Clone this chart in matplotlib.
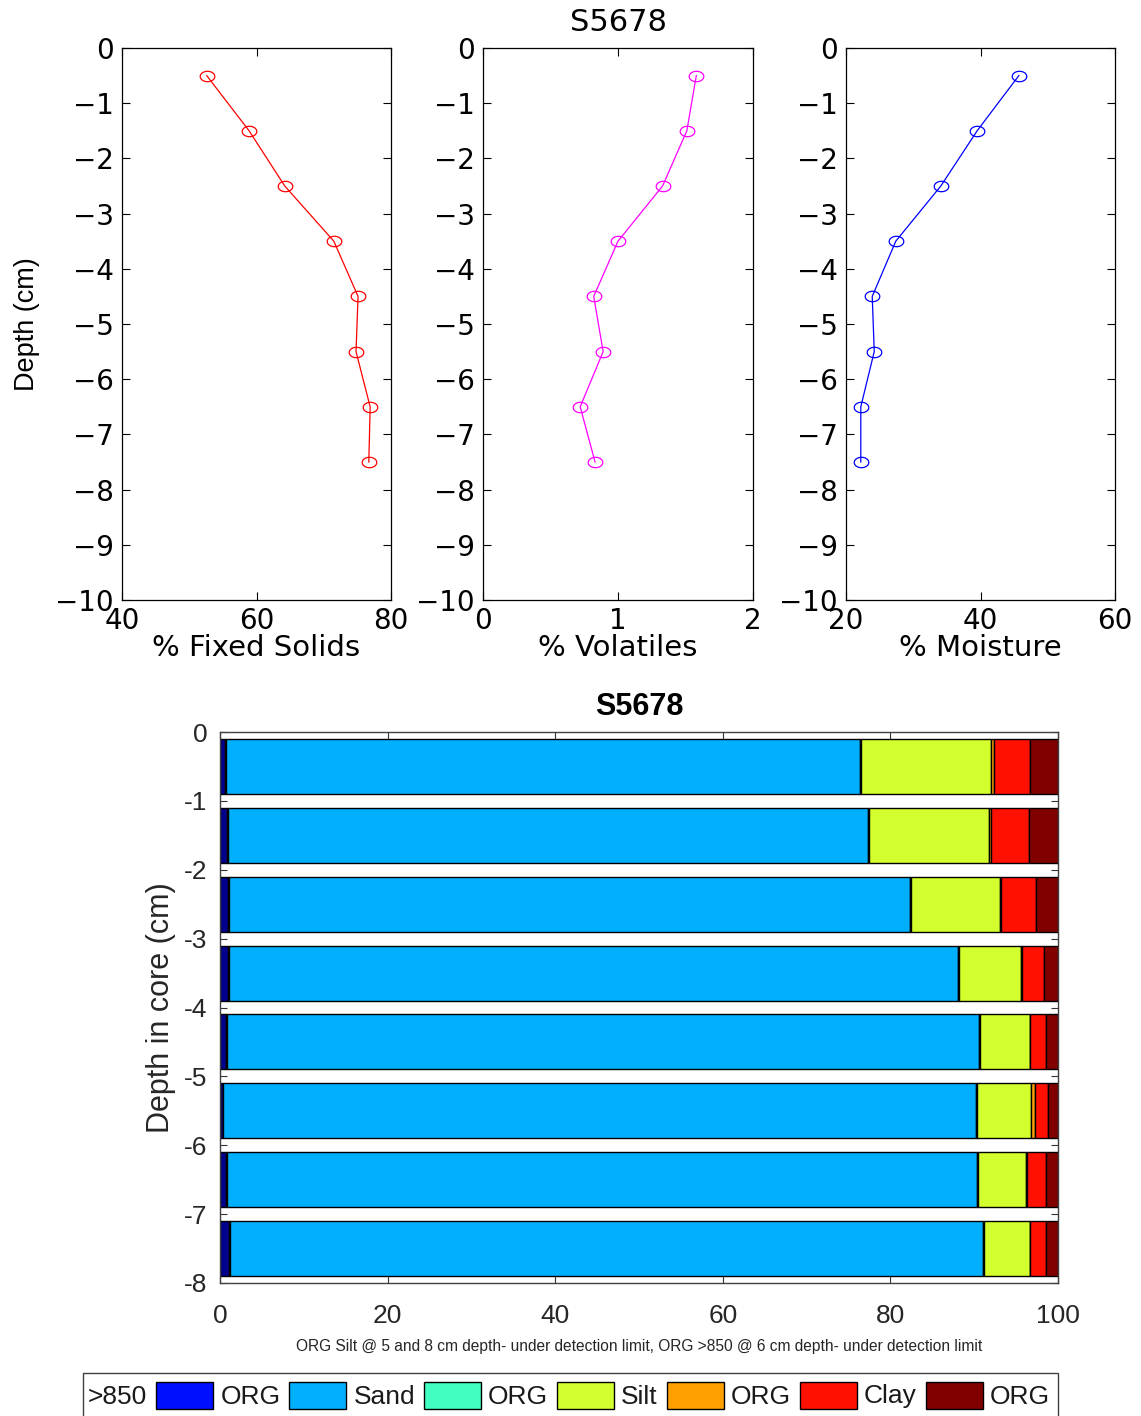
import numpy as np
import matplotlib
matplotlib.use('Agg')
import matplotlib.pyplot as plt
from matplotlib.path import Path
from matplotlib.patches import Rectangle

# ---------------- data ----------------
depth = [-0.5, -1.5, -2.5, -3.5, -4.5, -5.5, -6.5, -7.5]
fixed_solids = [52.6, 58.9, 64.2, 71.5, 75.1, 74.8, 76.9, 76.7]
volatiles = [1.58, 1.51, 1.33, 1.00, 0.82, 0.89, 0.72, 0.83]
moisture = [45.7, 39.5, 34.1, 27.4, 23.9, 24.2, 22.2, 22.2]

gt850 = [0.6, 0.85, 1.0, 1.0, 0.7, 0.4, 0.7, 1.1]
org_gt850 = [0.1, 0.1, 0.1, 0.1, 0.1, 0.0, 0.1, 0.1]
sand = [75.7, 76.4, 81.2, 87.0, 89.8, 89.8, 89.5, 89.9]
org_sand = [0.1, 0.1, 0.1, 0.1, 0.1, 0.1, 0.1, 0.1]
silt = [15.5, 14.3, 10.7, 7.4, 6.0, 6.5, 5.8, 5.5]
org_silt = [0.4, 0.2, 0.1, 0.1, 0.0, 0.5, 0.1, 0.0]
clay = [4.3, 4.6, 4.2, 2.6, 1.9, 1.5, 2.3, 1.9]
org_clay = [3.3, 3.4, 2.6, 1.7, 1.4, 1.2, 1.4, 1.4]

series = [gt850, org_gt850, sand, org_sand, silt, org_silt, clay, org_clay]
series_labels = ['>850', 'ORG', 'Sand', 'ORG', 'Silt', 'ORG', 'Clay', 'ORG']
series_colors = ['#00008c', '#0010ff', '#00b0ff', '#40ffc0', '#d4ff2e',
                 '#ffa000', '#ff1000', '#800000']

bar_yticks = [0, -1, -2, -3, -4, -5, -6, -7, -8]
bar_yticklabels = ['0', '-1', '-2', '-3', '-4', '-5', '-6', '-7', '-8']
bar_xticks = [0, 20, 40, 60, 80, 100]

title = 'S5678'
footnote = ('ORG Silt @ 5 and 8 cm depth- under detection limit, '
            'ORG >850 @ 6 cm depth- under detection limit')

# ---------------- figure ----------------
W, H = 1141, 1416
fig = plt.figure(figsize=(W / 100, H / 100), dpi=100)


def box(l, t, r, b):
    return [l / W, 1 - b / H, (r - l) / W, (b - t) / H]


top_font = 'DejaVu Sans'
sans = 'Liberation Sans'

theta = np.linspace(0, 2 * np.pi, 41)
ellipse = Path(np.column_stack([1.4 * np.cos(theta), np.sin(theta)]), closed=True)

top_specs = [
    (box(122, 48, 391, 600), fixed_solids, 'red', (40, 80), [40, 60, 80], '% Fixed Solids'),
    (box(483, 48, 753, 600), volatiles, 'magenta', (0, 2), [0, 1, 2], '% Volatiles'),
    (box(846, 48, 1115, 600), moisture, 'blue', (20, 60), [20, 40, 60], '% Moisture'),
]

top_axes = []
for rect, vals, col, xlim, xt, xl in top_specs:
    ax = fig.add_axes(rect)
    ax.plot(vals, depth, color=col, lw=0.9, marker=ellipse, markersize=10.5,
            markerfacecolor='none', markeredgecolor=col, markeredgewidth=0.9)
    ax.set_xlim(*xlim)
    ax.set_ylim(-10, 0)
    ax.set_xticks(xt)
    ax.set_yticks(np.arange(-10, 1, 1))
    ax.tick_params(direction='in', top=True, right=True, length=6, width=0.8,
                   labelsize=20, pad=6)
    ax.tick_params(axis='x', pad=5)
    for lab in ax.get_xticklabels() + ax.get_yticklabels():
        lab.set_family(top_font)
    ax.set_xlabel(xl, fontsize=21, family=top_font, labelpad=-1)
    for s in ax.spines.values():
        s.set_linewidth(0.9)
    top_axes.append(ax)

top_axes[0].set_ylabel('Depth (cm)', fontsize=19.5, family=sans, labelpad=11)
top_axes[1].set_title(title, fontsize=22, family=top_font, pad=12)

# ---------------- stacked bars ----------------
axb = fig.add_axes(box(220, 732, 1058, 1283))
left = np.zeros(len(depth))
for vals, col, lab in zip(series, series_colors, series_labels):
    axb.barh(depth, vals, left=left, height=0.8, color=col, edgecolor='black',
             linewidth=1.0, label=lab)
    left = left + np.asarray(vals)

axb.set_xlim(0, 100)
axb.set_ylim(-8, 0)
axb.set_xticks(bar_xticks)
axb.set_yticks(bar_yticks)
axb.set_yticklabels(bar_yticklabels)
axb.tick_params(direction='in', top=True, right=True, length=5, width=0.8,
                labelsize=19, colors='#333333', labelcolor='#262626')
axb.tick_params(axis='x', pad=15)
axb.tick_params(axis='y', pad=9)
for lab in axb.get_xticklabels() + axb.get_yticklabels():
    lab.set_family(sans)
for s in axb.spines.values():
    s.set_color('#404040')
    s.set_linewidth(1.0)
axb.set_title(title, fontsize=22, fontweight='bold', family=sans, pad=12)
axb.set_ylabel('Depth in core (cm)', fontsize=22, family=sans, labelpad=6,
               color='#262626')
axb.set_xlabel(footnote, fontsize=11.2, family=sans, labelpad=8, color='#262626')

# ---------------- legend (drawn as in the original) ----------------
legend_left, legend_top, legend_right = 83, 1373, 1058
fig.patches.append(Rectangle((legend_left / W, -0.05), (legend_right - legend_left) / W,
                             1 - legend_top / H + 0.05, transform=fig.transFigure,
                             facecolor='white', edgecolor='#404040', linewidth=1.0,
                             zorder=1))
renderer = fig.canvas.get_renderer()
x = 88
sw_w, sw_top, sw_bot = 57, 1382, 1409
yc = (sw_top + sw_bot) / 2 + 1
for i, (lab, col) in enumerate(zip(series_labels, series_colors)):
    if i > 0:
        x += 9
        fig.patches.append(Rectangle((x / W, 1 - sw_bot / H), sw_w / W,
                                     (sw_bot - sw_top) / H, transform=fig.transFigure,
                                     facecolor=col, edgecolor='black', linewidth=1.0,
                                     zorder=2))
        x += sw_w + 7
    t = fig.text(x / W, 1 - yc / H, lab, fontsize=19, family=sans, ha='left',
                 va='center', color='#1a1a1a', zorder=3)
    bb = t.get_window_extent(renderer=renderer)
    x += bb.width

fig.savefig('out.png', dpi=100)
